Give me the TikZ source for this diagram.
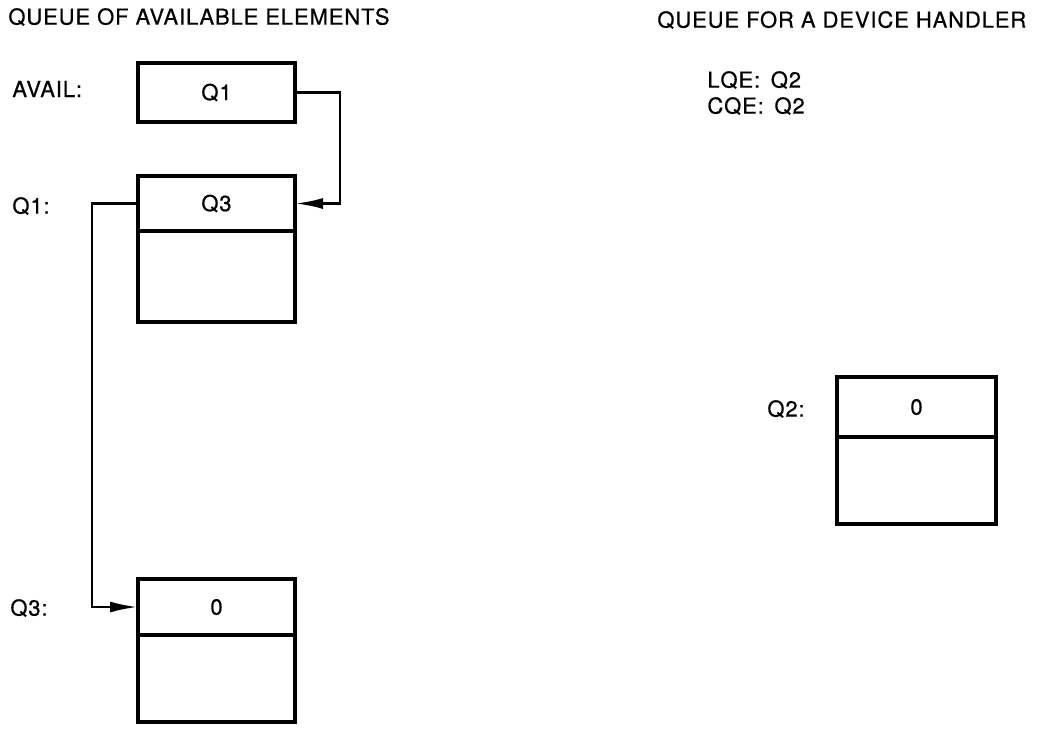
\documentclass[tikz,border=0pt]{standalone}
\usepackage{fontspec}
\setmainfont[LetterSpace=4, FakeBold=0.6]{TeX Gyre Heros}
\usetikzlibrary{arrows.meta}

\begin{document}
\begin{tikzpicture}[x=0.5pt, y=-0.5pt,
  every node/.style={font=\fontsize{11}{12}\selectfont},
  tag/.style={anchor=west, inner sep=0pt},
  cell/.style={draw, line width=2pt, inner sep=0pt, outer sep=0pt, minimum width=78.5pt},
  link/.style={line width=1.4pt, -{Latex[length=14pt, width=5.5pt]}}]
\useasboundingbox (0, 0) rectangle (1037, 730);

\node [tag] (titleavail) at (8, 17) {QUEUE OF AVAILABLE ELEMENTS};
\node [tag] (titledev) at (657, 20) {QUEUE FOR A DEVICE HANDLER};

\node [tag] (availlbl) at (12, 89) {AVAIL:};
\node [tag] (q1lbl) at (12, 206) {Q1:};
\node [tag] (q3lbl) at (10, 608) {Q3:};
\node [tag] (q2lbl) at (767, 409) {Q2:};
\node [tag] (lqe) at (707, 80) {LQE:\, Q2};
\node [tag] (cqe) at (707, 106) {CQE:\, Q2};

\node [cell, minimum height=29.5pt] (avail) at (216.5, 92.5) {Q1};

\node [cell, minimum height=27.5pt] (q1) at (216.5, 203.5) {Q3};
\node [cell, minimum height=45.5pt, anchor=north] (q1b) at (q1.south) {};

\node [cell, minimum height=28pt] (q3) at (216.5, 607) {0};
\node [cell, minimum height=43.5pt, anchor=north] (q3b) at (q3.south) {};

\node [cell, minimum width=79.5pt, minimum height=30pt] (q2) at (916.5, 407) {0};
\node [cell, minimum width=79.5pt, minimum height=43.5pt, anchor=north] (q2b) at (q2.south) {};

\draw [link] (avail.east) -- ++(45, 0) |- (q1.east);
\draw [link] (q1.west) -- ++(-46, 0) |- (q3.west);
\end{tikzpicture}
\end{document}
